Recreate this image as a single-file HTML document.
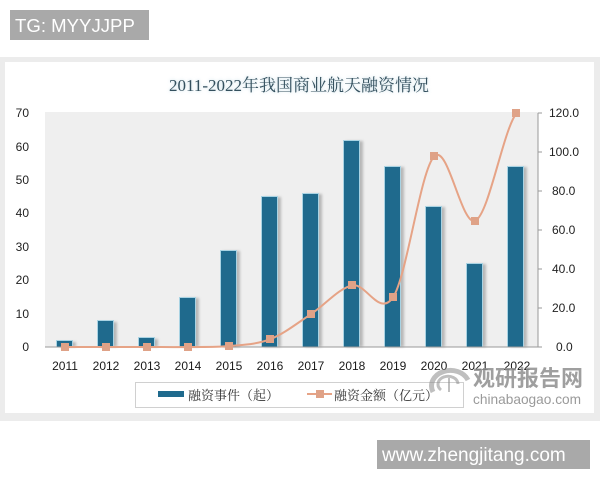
<!DOCTYPE html>
<html>
<head>
<meta charset="utf-8">
<style>
html,body{margin:0;padding:0;background:#fff;}
body{width:600px;height:480px;overflow:hidden;position:relative;}
svg{position:absolute;left:0;top:0;}
</style>
</head>
<body>
<svg width="600" height="480" viewBox="0 0 600 480" xmlns="http://www.w3.org/2000/svg">
  <defs>
    <filter id="blur1" x="-20%" y="-20%" width="140%" height="140%">
      <feGaussianBlur stdDeviation="1.2"/>
    </filter>
    <filter id="glow" x="-10%" y="-50%" width="120%" height="200%">
      <feGaussianBlur stdDeviation="1.5"/>
    </filter>
  </defs>

  <!-- TG box -->
  <rect x="10" y="10" width="139" height="30" fill="#a9a9a9"/>
  <text x="15" y="32" font-family="Liberation Sans, sans-serif" font-size="18.6" fill="#ffffff">TG: MYYJJPP</text>

  <!-- card frame -->
  <rect x="0" y="57" width="600" height="364" fill="#ececec"/>
  <rect x="5" y="62" width="589" height="351" fill="#ffffff"/>

  <!-- title -->
  <text x="299" y="91" text-anchor="middle" font-family="Liberation Serif, Noto Serif CJK SC, serif" font-size="17" fill="#bcd6e2" filter="url(#glow)">2011-2022年我国商业航天融资情况</text>
  <text x="299" y="91" text-anchor="middle" font-family="Liberation Serif, Noto Serif CJK SC, serif" font-size="17" fill="#34505e">2011-2022年我国商业航天融资情况</text>

  <!-- plot area -->
  <rect x="45" y="112" width="493" height="235" fill="#efefef"/>

  <!-- left axis labels -->
  <g font-family="Liberation Sans, sans-serif" font-size="12" fill="#222" text-anchor="end">
    <text x="29" y="117">70</text>
    <text x="29" y="151">60</text>
    <text x="29" y="184">50</text>
    <text x="29" y="217">40</text>
    <text x="29" y="251">30</text>
    <text x="29" y="284">20</text>
    <text x="29" y="318">10</text>
    <text x="29" y="351">0</text>
  </g>

  <!-- right axis -->
  <line x1="538" y1="113" x2="538" y2="347" stroke="#9a9a9a" stroke-width="1"/>
  <g stroke="#9a9a9a" stroke-width="1">
    <line x1="538" y1="113" x2="542" y2="113"/>
    <line x1="538" y1="152" x2="542" y2="152"/>
    <line x1="538" y1="191" x2="542" y2="191"/>
    <line x1="538" y1="230" x2="542" y2="230"/>
    <line x1="538" y1="269" x2="542" y2="269"/>
    <line x1="538" y1="308" x2="542" y2="308"/>
    <line x1="538" y1="347" x2="542" y2="347"/>
  </g>
  <g font-family="Liberation Sans, sans-serif" font-size="12" fill="#222">
    <text x="549" y="117">120.0</text>
    <text x="549" y="156">100.0</text>
    <text x="552" y="195">80.0</text>
    <text x="552" y="234">60.0</text>
    <text x="552" y="273">40.0</text>
    <text x="552" y="312">20.0</text>
    <text x="556" y="351">0.0</text>
  </g>

  <!-- bars: shadows -->
  <g fill="#b8b8b8" filter="url(#blur1)">
    <rect x="59" y="342" width="17" height="5"/>
    <rect x="100" y="322" width="17" height="25"/>
    <rect x="141" y="339" width="17" height="8"/>
    <rect x="182" y="298" width="17" height="49"/>
    <rect x="223" y="251" width="17" height="96"/>
    <rect x="264" y="197" width="17" height="150"/>
    <rect x="305" y="194" width="17" height="153"/>
    <rect x="346" y="141" width="17" height="206"/>
    <rect x="387" y="167" width="17" height="180"/>
    <rect x="428" y="207" width="17" height="140"/>
    <rect x="469" y="264" width="17" height="83"/>
    <rect x="510" y="167" width="17" height="180"/>
  </g>
  <!-- bars -->
  <g fill="#1f6a8d" stroke="#a9d3e3" stroke-width="1">
    <rect x="56.5" y="340.5" width="16" height="6.5"/>
    <rect x="97.5" y="320.5" width="16" height="26.5"/>
    <rect x="138.5" y="337.5" width="16" height="9.5"/>
    <rect x="179.5" y="297.5" width="16" height="49.5"/>
    <rect x="220.5" y="250.5" width="16" height="96.5"/>
    <rect x="261.5" y="196.5" width="16" height="150.5"/>
    <rect x="302.5" y="193.5" width="16" height="153.5"/>
    <rect x="343.5" y="140.5" width="16" height="206.5"/>
    <rect x="384.5" y="166.5" width="16" height="180.5"/>
    <rect x="425.5" y="206.5" width="16" height="140.5"/>
    <rect x="466.5" y="263.5" width="16" height="83.5"/>
    <rect x="507.5" y="166.5" width="16" height="180.5"/>
  </g>

  <!-- x axis -->
  <line x1="45" y1="347" x2="538" y2="347" stroke="#9a9a9a" stroke-width="1"/>

  <!-- line series -->
  <path d="M65,347 C78.68,347 92.37,347 106.05,347 C119.73,347 133.42,347 147.1,347 C160.78,347 174.47,347.17 188.15,347 C201.83,346.83 215.52,347.3 229.2,346 C242.88,344.7 256.57,344.55 270.25,339.2 C283.93,333.85 297.62,322.87 311.3,313.9 C324.98,304.93 338.67,288.27 352.35,285.4 C366.03,282.53 379.72,318.25 393.4,296.7 C407.08,275.15 420.77,168.78 434.45,156.1 C448.13,143.42 461.82,227.78 475.5,220.6 C489.18,213.42 502.87,130.93 516.55,113" fill="none" stroke="#e6a386" stroke-width="2"/>
  <g fill="#dfa287">
    <rect x="61" y="343" width="8" height="8"/>
    <rect x="102" y="343" width="8" height="8"/>
    <rect x="143" y="343" width="8" height="8"/>
    <rect x="184" y="343" width="8" height="8"/>
    <rect x="225" y="342" width="8" height="8"/>
    <rect x="266" y="335" width="8" height="8"/>
    <rect x="307" y="310" width="8" height="8"/>
    <rect x="348" y="281" width="8" height="8"/>
    <rect x="389" y="293" width="8" height="8"/>
    <rect x="430" y="152" width="8" height="8"/>
    <rect x="471" y="217" width="8" height="8"/>
    <rect x="512" y="109" width="8" height="8"/>
  </g>

  <!-- x labels -->
  <g font-family="Liberation Sans, sans-serif" font-size="12" fill="#1a1a1a" text-anchor="middle">
    <text x="65" y="370">2011</text>
    <text x="106" y="370">2012</text>
    <text x="147" y="370">2013</text>
    <text x="188" y="370">2014</text>
    <text x="229" y="370">2015</text>
    <text x="270" y="370">2016</text>
    <text x="311" y="370">2017</text>
    <text x="352" y="370">2018</text>
    <text x="393" y="370">2019</text>
    <text x="434" y="370">2020</text>
    <text x="475" y="370">2021</text>
    <text x="517" y="370">2022</text>
  </g>

  <!-- legend -->
  <rect x="135.5" y="382.5" width="328" height="25" fill="#ffffff" stroke="#d0d0d0" stroke-width="1"/>
  <rect x="158" y="391" width="26" height="6" fill="#1f6a8d"/>
  <text x="188" y="400" font-family="Noto Serif CJK SC, serif" font-size="13" fill="#333">融资事件（起）</text>
  <line x1="307" y1="394" x2="332" y2="394" stroke="#e6a386" stroke-width="2"/>
  <rect x="316" y="390" width="8" height="8" fill="#dfa287"/>
  <text x="334" y="400" font-family="Noto Serif CJK SC, serif" font-size="13" fill="#333">融资金额（亿元）</text>

  <!-- watermark -->
  <g opacity="0.55" fill="none" stroke="#8c8c8c">
    <path d="M433,392 A17,14 0 1 1 468,380" stroke-width="5"/>
    <path d="M441,390 A10,8 0 1 1 458,384" stroke-width="3"/>
    <path d="M449,378 L449,392" stroke-width="2"/>
  </g>
  <text x="473" y="386" font-family="Noto Sans CJK SC, sans-serif" font-weight="bold" font-size="22" fill="#8f8f8f" opacity="0.85">观研报告网</text>
  <text x="473" y="404" font-family="Liberation Sans, sans-serif" font-size="13.7" fill="#9a9a9a">chinabaogao.com</text>

  <!-- www box -->
  <rect x="377" y="440" width="213" height="29" fill="#a9a9a9"/>
  <text x="382" y="461" font-family="Liberation Sans, sans-serif" font-size="19" fill="#ffffff">www.zhengjitang.com</text>
</svg>
</body>
</html>
